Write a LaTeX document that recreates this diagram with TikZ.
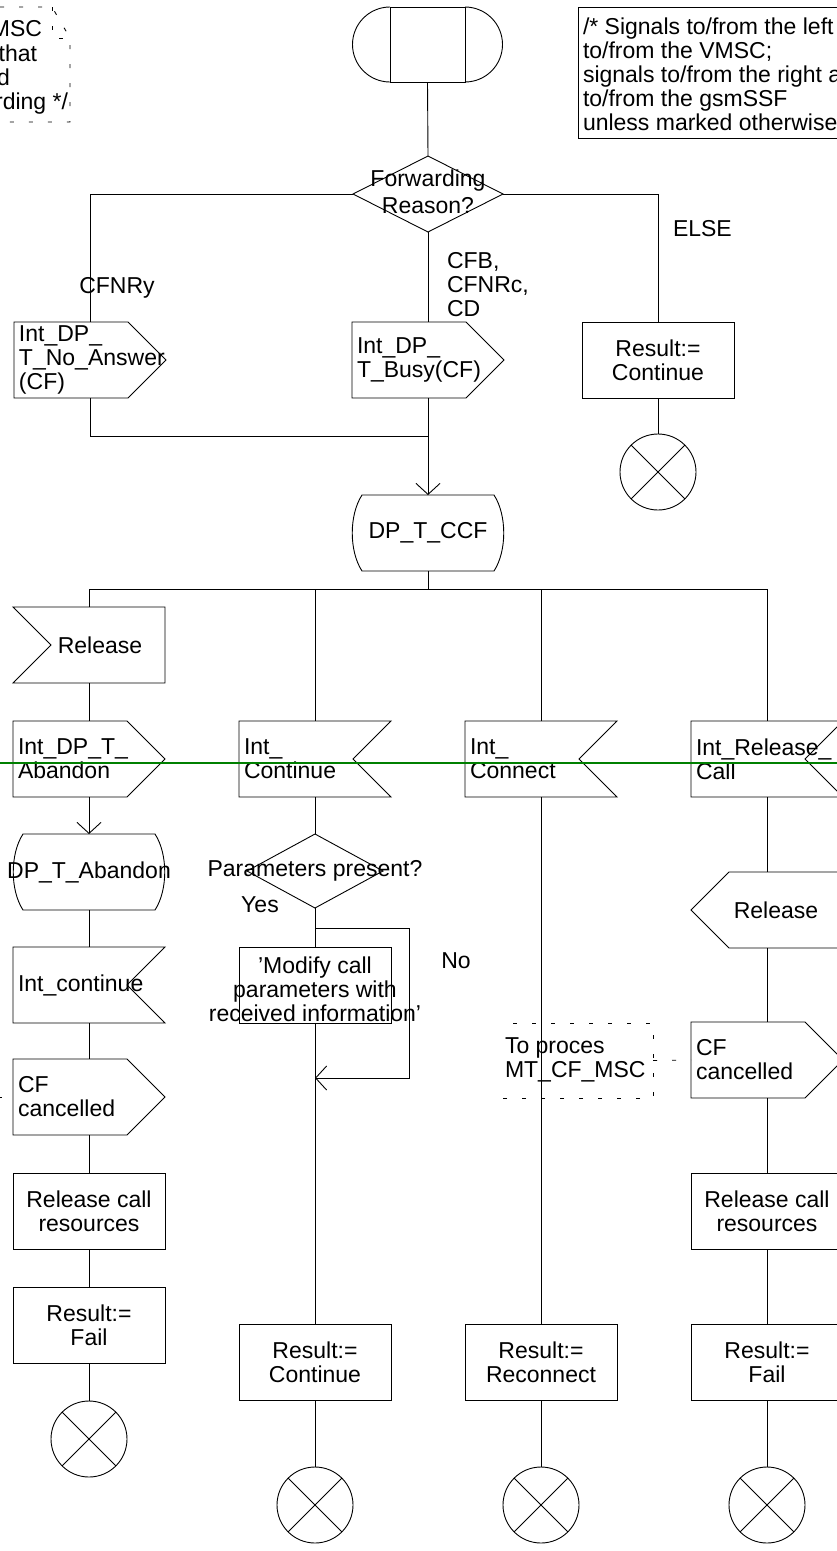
\documentclass[tikz,border=0pt]{standalone}
\usepackage{fontspec}
\setmainfont{Liberation Sans}
\usetikzlibrary{arrows.meta}
\newcommand\sgoutR[1]{\draw (#1.north west) -- ([xshift=-38pt]#1.north east) -- (#1.east) -- ([xshift=-38pt]#1.south east) -- (#1.south west) -- cycle;}
\newcommand\sgoutL[1]{\draw (#1.west) -- ([xshift=38pt]#1.north west) -- (#1.north east) -- (#1.south east) -- ([xshift=38pt]#1.south west) -- cycle;}
\newcommand\sginL[1]{\draw (#1.north west) -- (#1.north east) -- (#1.south east) -- (#1.south west) -- ([xshift=38pt]#1.west) -- cycle;}
\newcommand\sginR[1]{\draw (#1.north west) -- (#1.north east) -- ([xshift=-38pt]#1.east) -- (#1.south east) -- (#1.south west) -- cycle;}
\newcommand\sgbulge[1]{\draw ([xshift=10pt]#1.north west) -- ([xshift=-10pt]#1.north east) .. controls ([xshift=3pt,yshift=-20pt]#1.north east) and ([xshift=3pt,yshift=20pt]#1.south east) .. ([xshift=-10pt]#1.south east) -- ([xshift=10pt]#1.south west) .. controls ([xshift=-3pt,yshift=20pt]#1.south west) and ([xshift=-3pt,yshift=-20pt]#1.north west) .. cycle;}
\newcommand\sgcross[1]{\draw (#1.north west) -- (#1.south east) (#1.north east) -- (#1.south west);}
\begin{document}
\begin{tikzpicture}[x=1pt,y=-1pt,line width=0.9pt,
  every node/.style={inner sep=0pt,outer sep=0pt},
  f/.style={font=\fontsize{23}{24}\selectfont},
  blk/.style={minimum width=152pt,minimum height=76pt},
  task/.style={blk,draw,f,align=center},
  term/.style={circle,draw,minimum size=76pt},
  arr/.style={-{Straight Barb[length=11pt,width=24pt]}},
  cmtline/.style={dash pattern=on 4pt off 15pt},
  guide/.style={draw={rgb,255:red,0;green,128;blue,0},line width=1.6pt}]
\useasboundingbox (0,0) rectangle (837,1551);
\clip (0,0) rectangle (837,1551);

% top-left comment (cut off)
\coordinate (tlc1) at (0,7);
\coordinate (tlc2) at (52,7);
\coordinate (tlc3) at (70,38);
\coordinate (tlc4) at (70,122);
\coordinate (tlc5) at (0,122);
\coordinate (tlc6) at (52,38);
\draw[cmtline] (tlc1) -- (tlc2) -- (tlc3) -- (tlc4) -- (tlc5);
\draw[cmtline] (tlc2) -- (tlc6) -- (tlc3);
\node[f,anchor=base east] (tl1) at (42,36) {MSC};
\node[f,anchor=base east] (tl2) at (37,61) {that};
\node[f,anchor=base east] (tl3) at (10,85) {d};
\node[f,anchor=base east] (tl4) at (68,109) {rding */};

% top-right comment
\node[draw,minimum width=270pt,minimum height=131pt] (trc) at (713,72.5) {};
\node[f,anchor=west,align=left] (trct) at (583,74.5) {/* Signals to/from the left\\to/from the VMSC;\\signals to/from the right a\\to/from the gsmSSF\\unless marked otherwise};

% start
\node[draw,minimum width=75pt,minimum height=75pt] (start) at (427.5,44.5) {};
\draw (start.north west) arc[start angle=90,end angle=270,radius=37.5pt];
\draw (start.north east) arc[start angle=90,end angle=-90,radius=37.5pt];

% decision
\node[minimum width=150pt,minimum height=76pt] (fr) at (428,194) {};
\draw (fr.west) -- (fr.north) -- (fr.east) -- (fr.south) -- cycle;
\node[f,align=center,font=\fontsize{23}{27}\selectfont] (frt) at (428,192) {Forwarding\\Reason?};
\draw (start.south) -- (fr.north);

\node[f,anchor=base] (lcfnry) at (117,293) {CFNRy};
\node[f,anchor=north west,align=left] (lcfb) at (447,252) {CFB,\\CFNRc,\\CD};
\node[f,anchor=base west] (lelse) at (673,236) {ELSE};

% top row
\node[blk] (a1) at (90,360) {};
\sgoutR{a1}
\node[f,anchor=west,align=left] (a1t) at ([xshift=5pt]a1.west) {Int\_DP\_\\T\_No\_Answer\\(CF)};
\node[blk] (a2) at (428,360) {};
\sgoutR{a2}
\node[f,anchor=west,align=left] (a2t) at ([xshift=5pt]a2.west) {Int\_DP\_\\T\_Busy(CF)};
\node[task] (a3) at (658,360) {Result:=\\Continue};
\node[term] (t0) at (658,472) {};
\sgcross{t0}

\draw (fr.west) -| (a1.north);
\draw (fr.east) -| (a3.north);
\draw (fr.south) -- (a2.north);
\draw (a3.south) -- (t0.north);

\coordinate (j2) at (428,436);
\node[blk] (ccf) at (428,533) {};
\sgbulge{ccf}
\node[f] (ccft) at (ccf.center) {DP\_T\_CCF};
\draw (a1.south) |- (j2);
\draw[arr] (a2.south) -- (ccf.north);

\coordinate (bus) at (428,589);
\draw (ccf.south) -- (bus);

% column 1
\node[blk] (rel1) at (89,645) {};
\sginL{rel1}
\node[f] (rel1t) at (100,645) {Release};
\node[blk] (ab1) at (89,759) {};
\sgoutR{ab1}
\node[f,anchor=west,align=left] (ab1t) at ([xshift=5pt]ab1.west) {Int\_DP\_T\_\\Abandon};
\node[blk] (dpab) at (89,872) {};
\sgbulge{dpab}
\node[f] (dpabt) at (dpab.center) {DP\_T\_Abandon};
\node[blk] (ic1) at (89,985) {};
\sginR{ic1}
\node[f,anchor=west] (ic1t) at ([xshift=5pt]ic1.west) {Int\_continue};
\node[blk] (cf1) at (89,1097) {};
\sgoutR{cf1}
\node[f,anchor=west,align=left] (cf1t) at ([xshift=5pt]cf1.west) {CF\\cancelled};
\node[task] (rr1) at (89,1211) {Release call\\resources};
\node[task] (res1) at (89,1325) {Result:=\\Fail};
\node[term] (t1) at (89,1439) {};
\sgcross{t1}
\draw (rel1.south) -- (ab1.north);
\draw[arr] (ab1.south) -- (dpab.north);
\draw (dpab.south) -- (ic1.north);
\draw (ic1.south) -- (cf1.north);
\draw (cf1.south) -- (rr1.north);
\draw (rr1.south) -- (res1.north);
\draw (res1.south) -- (t1.north);
\coordinate (cf1c) at (-2,1097);
\draw (cf1c) -- ++(4,0);

% column 2
\node[blk] (ic2) at (315,759) {};
\sginR{ic2}
\node[f,anchor=west,align=left] (ic2t) at ([xshift=5pt]ic2.west) {Int\_\\Continue};
\node[minimum width=136pt,minimum height=74pt] (d2) at (315,871) {};
\draw (d2.west) -- (d2.north) -- (d2.east) -- (d2.south) -- cycle;
\node[f] (d2t) at (315,871) {Parameters present?};
\node[f,anchor=base] (lyes) at (260,912) {Yes};
\node[f,anchor=base] (lno) at (456,968) {No};
\node[blk,draw] (mod) at (315,985) {};
\node[f,align=center] (modt) at (315,989) {'Modify call\\parameters with\\received information'};
\node[task] (res2) at (315,1362) {Result:=\\Continue};
\node[term] (t2) at (315,1505) {};
\sgcross{t2}
\coordinate (br) at (315,928);
\coordinate (lp1) at (409,928);
\coordinate (lp2) at (409,1078);
\coordinate (lp3) at (315,1078);
\draw (ic2.south) -- (d2.north);
\draw (d2.south) -- (mod.north);
\draw[arr] (br) -- (lp1) -- (lp2) -- (lp3);
\draw (mod.south) -- (res2.north);
\draw (res2.south) -- (t2.north);

% column 3
\node[blk] (ic3) at (541,759) {};
\sginR{ic3}
\node[f,anchor=west,align=left] (ic3t) at ([xshift=5pt]ic3.west) {Int\_\\Connect};
\node[task] (res3) at (541,1362) {Result:=\\Reconnect};
\node[term] (t3) at (541,1505) {};
\sgcross{t3}
\draw (ic3.south) -- (res3.north);
\draw (res3.south) -- (t3.north);
\node[minimum width=151pt,minimum height=75pt] (cmt) at (577.5,1060.5) {};
\draw[cmtline] ([xshift=11pt]cmt.north west) -- (cmt.north east) -- (cmt.south east) -- (cmt.south west);
\node[f,anchor=west,align=left] (cmtt) at (505,1060) {To proces\\MT\_CF\_MSC};

% column 4
\node[blk] (ic4) at (767,759) {};
\sginR{ic4}
\node[f,anchor=west,align=left] (ic4t) at ([xshift=5pt]ic4.west) {Int\_Release\_\\Call};
\node[blk] (rel4) at (767,910) {};
\sgoutL{rel4}
\node[f] (rel4t) at (776,910) {Release};
\node[blk] (cf4) at (767,1060) {};
\sgoutR{cf4}
\node[f,anchor=west,align=left] (cf4t) at ([xshift=5pt]cf4.west) {CF\\cancelled};
\node[task] (rr4) at (767,1211) {Release call\\resources};
\node[task] (res4) at (767,1362) {Result:=\\Fail};
\node[term] (t4) at (767,1505) {};
\sgcross{t4}
\draw (ic4.south) -- (rel4.north);
\draw (rel4.south) -- (cf4.north);
\draw (cf4.south) -- (rr4.north);
\draw (rr4.south) -- (res4.north);
\draw (res4.south) -- (t4.north);
\draw[cmtline] (cmt.east) -- (cf4.west);

% bus
\draw (rel1.north) |- (bus) -| (ic4.north);
\draw (ic2.north) -- (ic2.north |- bus);
\draw (ic3.north) -- (ic3.north |- bus);

% green guide line
\coordinate (g1) at (0,763);
\coordinate (g2) at (837,763);
\draw[guide] (g1) -- (g2);
\end{tikzpicture}
\end{document}
